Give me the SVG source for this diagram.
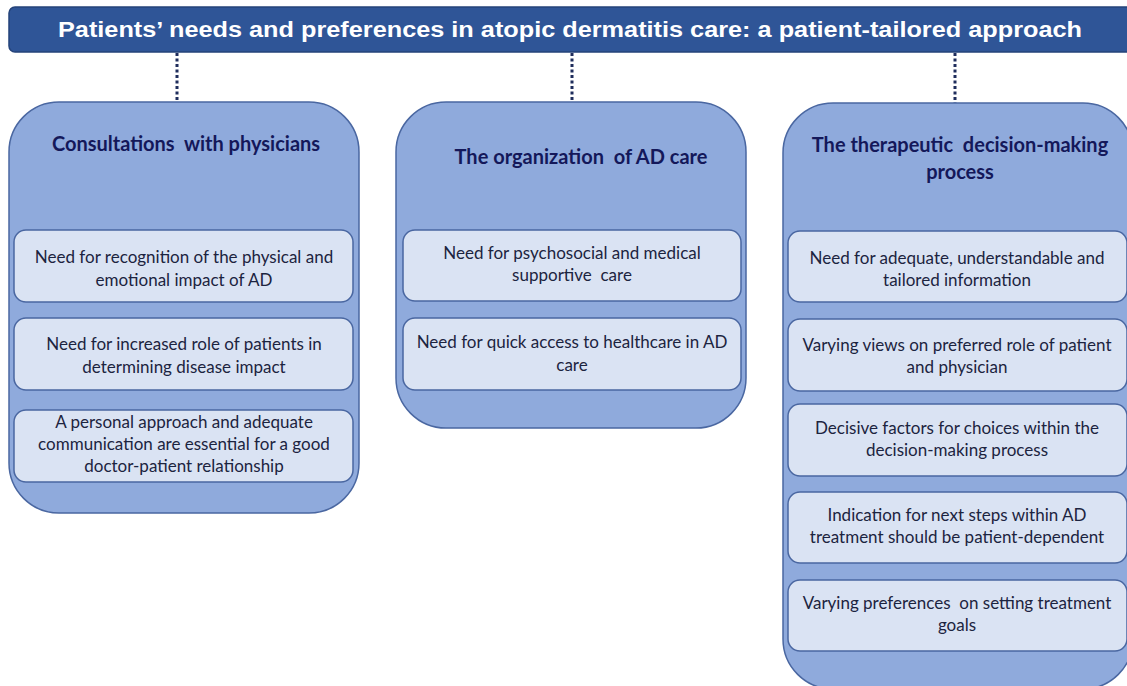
<svg xmlns="http://www.w3.org/2000/svg" width="1127" height="686" viewBox="0 0 1127 686">
<style>
.bar{fill:#2f5597;stroke:#24437a;stroke-width:1.5}
.title{font-family:"Liberation Sans",Arial,sans-serif;font-weight:bold;font-size:22px;fill:#ffffff}
.cont{fill:#8faadc;stroke:#4a67a1;stroke-width:1.5}
.item{fill:#dae3f3;stroke:#4a67a1;stroke-width:1.5}
.head{font-family:Lato,"Open Sans",sans-serif;font-weight:bold;font-size:20px;fill:#14185a;text-anchor:middle;white-space:pre}
.txt{font-family:Lato,"Open Sans",sans-serif;font-size:17px;fill:#1c2440;text-anchor:middle;white-space:pre}
.dot{stroke:#1f2d5c;stroke-width:3;stroke-dasharray:3 2.5;fill:none}
</style>
<g id="title">
<rect class="bar" x="9" y="7" width="1130" height="45" rx="6"/>
<text class="title" x="58" y="37" textLength="1024" lengthAdjust="spacingAndGlyphs">Patients’ needs and preferences in atopic dermatitis care: a patient-tailored approach</text>
</g>
<g id="connectors">
<line class="dot" x1="177" y1="53" x2="177" y2="102"/>
<line class="dot" x1="572" y1="53" x2="572" y2="102"/>
<line class="dot" x1="955" y1="53" x2="955" y2="103"/>
</g>
<g id="col1">
<rect class="cont" x="9" y="102" width="350" height="411" rx="50"/>
<text class="head" x="186" y="151" xml:space="preserve">Consultations  with physicians</text>
<g id="c1i1"><rect class="item" x="14" y="230" width="339" height="72" rx="12"/>
<text class="txt" x="184" y="263">Need for recognition of the physical and</text>
<text class="txt" x="184" y="286">emotional impact of AD</text></g>
<g id="c1i2"><rect class="item" x="14" y="318" width="339" height="72" rx="12"/>
<text class="txt" x="184" y="350">Need for increased role of patients in</text>
<text class="txt" x="184" y="373">determining disease impact</text></g>
<g id="c1i3"><rect class="item" x="14" y="410" width="339" height="72" rx="12"/>
<text class="txt" x="184" y="428">A personal approach and adequate</text>
<text class="txt" x="184" y="450">communication are essential for a good</text>
<text class="txt" x="184" y="472">doctor-patient relationship</text></g>
</g>
<g id="col2">
<rect class="cont" x="396" y="102" width="350" height="326" rx="50"/>
<text class="head" x="581" y="164" xml:space="preserve">The organization  of AD care</text>
<g id="c2i1"><rect class="item" x="403" y="230" width="338" height="71" rx="12"/>
<text class="txt" x="572" y="259">Need for psychosocial and medical</text>
<text class="txt" x="572" y="281" xml:space="preserve">supportive  care</text></g>
<g id="c2i2"><rect class="item" x="403" y="318" width="338" height="72" rx="12"/>
<text class="txt" x="572" y="348">Need for quick access to healthcare in AD</text>
<text class="txt" x="572" y="371">care</text></g>
</g>
<g id="col3">
<rect class="cont" x="783" y="103" width="350" height="586" rx="50"/>
<text class="head" x="960" y="152" xml:space="preserve">The therapeutic  decision-making</text>
<text class="head" x="960" y="179">process</text>
<g id="c3i1"><rect class="item" x="788" y="231" width="339" height="71" rx="12"/>
<text class="txt" x="957" y="264">Need for adequate, understandable and</text>
<text class="txt" x="957" y="286">tailored information</text></g>
<g id="c3i2"><rect class="item" x="788" y="319" width="339" height="72" rx="12"/>
<text class="txt" x="957" y="351">Varying views on preferred role of patient</text>
<text class="txt" x="957" y="373">and physician</text></g>
<g id="c3i3"><rect class="item" x="788" y="404" width="339" height="72" rx="12"/>
<text class="txt" x="957" y="434">Decisive factors for choices within the</text>
<text class="txt" x="957" y="456">decision-making process</text></g>
<g id="c3i4"><rect class="item" x="788" y="492" width="339" height="71" rx="12"/>
<text class="txt" x="957" y="521">Indication for next steps within AD</text>
<text class="txt" x="957" y="543">treatment should be patient-dependent</text></g>
<g id="c3i5"><rect class="item" x="788" y="580" width="339" height="71" rx="12"/>
<text class="txt" x="957" y="609" xml:space="preserve">Varying preferences  on setting treatment</text>
<text class="txt" x="957" y="631">goals</text></g>
</g>
</svg>
